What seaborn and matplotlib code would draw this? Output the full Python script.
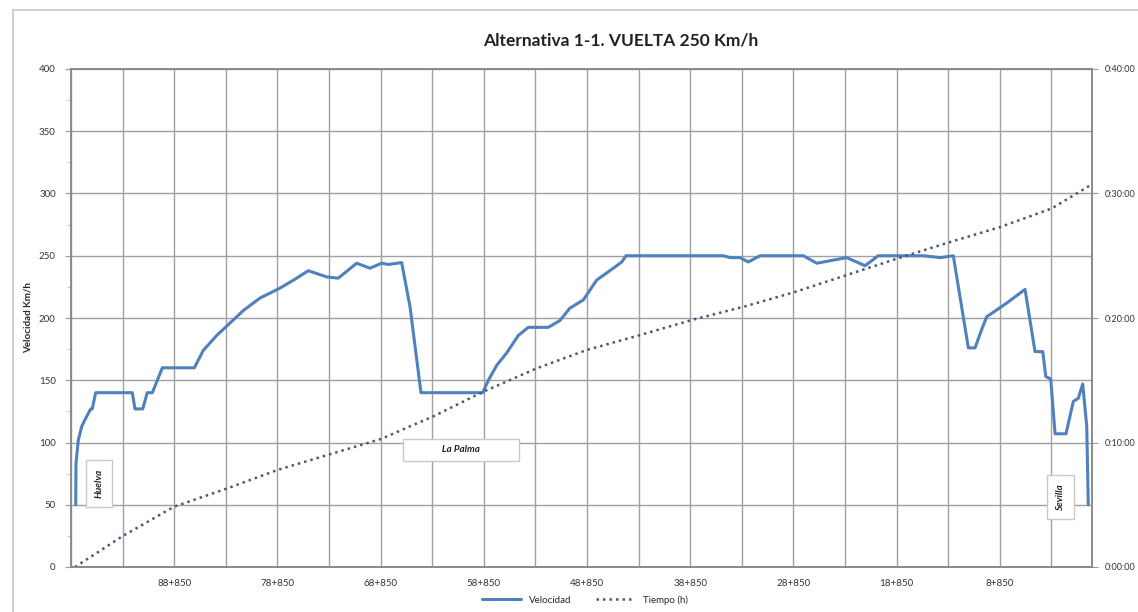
import numpy as np
import pandas as pd
import seaborn as sns
import matplotlib.pyplot as plt
from matplotlib.patches import Rectangle

# velocity profile (PK in km, speed in km/h)
vel_pk = [98.39, 98.37, 98.14, 97.81, 97.33, 96.94, 96.79, 96.46, 92.91, 92.65,
          91.90, 91.46, 90.97, 90.00, 86.90, 86.03, 84.73, 83.76, 82.15, 80.54,
          78.60, 76.98, 75.86, 74.07, 72.95, 71.17, 69.88, 68.74, 68.10, 66.81,
          66.00, 64.94, 58.96, 58.41, 57.60, 56.63, 55.51, 54.54, 52.60, 51.47,
          50.50, 49.21, 47.91, 46.30, 45.49, 45.07, 35.64, 34.99, 34.02, 33.22,
          32.09, 27.89, 26.59, 23.69, 21.91, 20.63, 16.26, 14.64, 13.36, 11.90,
          11.25, 10.60, 10.12, 8.18, 6.41, 5.44, 4.69, 4.40, 3.92, 3.50, 2.44,
          1.73, 1.25, 0.82, 0.43, 0.28]
vel_kmh = [50, 83, 102, 113, 121, 127, 127, 140, 140, 127,
           127, 140, 140, 160, 160, 174, 186, 193.5, 206, 216,
           224, 232, 238, 233, 232, 244, 240, 244, 243, 244.5,
           209, 140, 140, 150, 162, 172, 186, 192.5, 192.5, 198,
           208, 214.5, 230.5, 240, 245, 250, 250, 248.5, 248.5, 245,
           250, 250, 244, 248.5, 242, 250, 250, 248.5, 250, 176,
           176, 191, 201, 212, 223, 173, 173, 153, 151, 107, 107,
           133, 135.5, 147, 113, 50]

# running time (PK in km, minutes)
time_pk = [98.46, 93.81, 88.87, 83.76, 78.82, 73.78, 68.74, 66.97, 63.74, 58.90,
           53.72, 48.88, 43.71, 38.70, 33.70, 28.86, 23.69, 18.69, 13.68, 8.83,
           3.82, 0.20]
time_min = [0, 2.5, 4.84, 6.3, 7.8, 9.05, 10.3, 10.95, 12.1, 14.08,
            15.96, 17.43, 18.63, 19.84, 20.9, 22.05, 23.45, 24.8, 26.1, 27.3,
            28.8, 30.6]

grid_pk = [round(98.85 - 5 * i, 2) for i in range(20)]
label_pk = [88.85, 78.85, 68.85, 58.85, 48.85, 38.85, 28.85, 18.85, 8.85]
time_labels = ['0:00:00', '0:10:00', '0:20:00', '0:30:00', '0:40:00']

vel = pd.DataFrame({'pk': vel_pk, 'v': vel_kmh})
tiempo = pd.DataFrame({'pk': time_pk, 't': time_min})

sns.set_style('white')
plt.rcParams['font.family'] = ['Lato', 'DejaVu Sans']

fig = plt.figure(figsize=(11.38, 6.12), dpi=100)
ax = fig.add_axes([71/1138, 1 - 567/612, (1092 - 71)/1138, (567 - 69)/612])
ax2 = ax.twinx()

sns.lineplot(data=vel, x='pk', y='v', ax=ax, sort=False, estimator=None,
             color='#4F81BD', lw=2.2, label='Velocidad', legend=False)
sns.lineplot(data=tiempo, x='pk', y='t', ax=ax2, sort=False, estimator=None,
             color='#4A5878', lw=1.8, linestyle=(0, (1, 1.6)), label='Tiempo (h)', legend=False)

ax.set_xlim(98.85, -0.08)
ax.set_ylim(0, 400)
ax2.set_ylim(0, 40)

ax.set_xticks(grid_pk)
ax.set_xticklabels([('%d+850' % int(p)) if any(abs(p - q) < 0.01 for q in label_pk) else ''
                    for p in grid_pk])
ax.set_yticks(range(0, 401, 50))
ax.set_yticks(range(25, 400, 50), minor=True)
ax.grid(True, color='#a0a0a0', lw=1.0)
ax.tick_params(axis='x', length=0, labelsize=7, colors='#333333', pad=9)
ax.tick_params(axis='y', which='major', length=4, labelsize=7, colors='#333333', pad=7)
ax.tick_params(axis='y', which='minor', length=3, color='#bbbbbb')
ax.tick_params(axis='y', which='major', color='#999999')

ax2.set_yticks(range(0, 41, 10))
ax2.set_yticklabels(time_labels)
ax2.tick_params(axis='y', length=4, labelsize=6.5, colors='#333333', color='#999999', pad=5)
ax2.grid(False)

for a in (ax, ax2):
    for s in a.spines.values():
        s.set_color('#8a8a8a')
        s.set_linewidth(1.2)
    a.set_xlabel('')
    a.set_ylabel('')

ax.set_ylabel('Velocidad Km/h', fontsize=7, fontweight='bold')
ax.yaxis.set_label_coords(-38/1021, 0.5)

fig.text(621/1138, 1 - 40/612, 'Alternativa 1-1. VUELTA 250 Km/h', ha='center', va='center',
         fontsize=12.5, fontweight='bold', color='#222222')

box = dict(boxstyle='square,pad=0.9', fc='white', ec='#c8c8c8', lw=1)
ax.text(96.14, 67, 'Huelva', rotation=90, ha='center', va='center', fontsize=7,
        style='italic', fontweight='bold', bbox=box, color='#222222')
ax.text(61.06, 94, '               La Palma               ', ha='center', va='center',
        fontsize=7, style='italic', fontweight='bold', color='#222222',
        bbox=dict(boxstyle='square,pad=0.7', fc='white', ec='#c8c8c8', lw=1))
ax.text(2.97, 56, 'Sevilla', rotation=90, ha='center', va='center', fontsize=7,
        style='italic', fontweight='bold', bbox=box, color='#222222')

h1, l1 = ax.get_legend_handles_labels()
h2, l2 = ax2.get_legend_handles_labels()
fig.legend(h1 + h2, l1 + l2, loc='center', bbox_to_anchor=(585/1138, 1 - 600/612), ncol=2,
           frameon=False, fontsize=7, handlelength=4, columnspacing=2.5)

fig.patches.append(Rectangle((13/1138, -0.1), 1.2, 1 - 10/612 + 0.1, transform=fig.transFigure,
                             fill=False, ec='#c8c8c8', lw=1.2))

fig.savefig('out.png', dpi=100)
